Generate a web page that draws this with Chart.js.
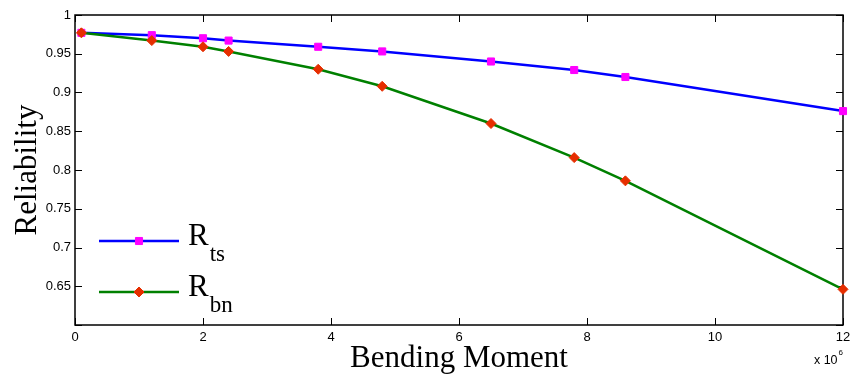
<!DOCTYPE html>
<html>
<head>
<meta charset="utf-8">
<script src="https://cdn.jsdelivr.net/npm/chart.js@4/dist/chart.umd.min.js"></script>
<style>
  html, body { margin: 0; padding: 0; background: #fff; }
  #chart { display: block; }
</style>
</head>
<body>
<canvas id="chart" width="851" height="377"></canvas>
<script>
// ── DATA ─────────────────────────────────────────────────
// bending moment in units of 10^6
const bendingMoment = [0.1, 1.2, 2, 2.4, 3.8, 4.8, 6.5, 7.8, 8.6, 12];
const reliabilityTs = [0.977, 0.974, 0.970, 0.967, 0.959, 0.953, 0.940, 0.929, 0.920, 0.876];
const reliabilityBn = [0.977, 0.967, 0.959, 0.953, 0.930, 0.908, 0.860, 0.816, 0.786, 0.646];
const xTicks = [0, 2, 4, 6, 8, 10, 12];
const yTicks = [0.6, 0.65, 0.7, 0.75, 0.8, 0.85, 0.9, 0.95, 1];

const SERIF = "'Liberation Serif', 'Times New Roman', serif";
const SANS  = "'Liberation Sans', Arial, sans-serif";
const TICK_LEN = 7;

const toPoints = ys => bendingMoment.map((x, i) => ({ x, y: ys[i] }));

// ── PLOT FRAME + INWARD TICKS ────────────────────────────
const framePlugin = {
  id: 'frame',
  beforeDatasetsDraw(chart) {
    const { ctx, chartArea: a, scales } = chart;
    ctx.save();
    ctx.strokeStyle = '#000';
    ctx.lineWidth = 1;
    ctx.beginPath();
    scales.x.ticks.forEach(t => {
      const px = Math.round(scales.x.getPixelForValue(t.value)) + 0.5;
      ctx.moveTo(px, a.bottom); ctx.lineTo(px, a.bottom - TICK_LEN);
      ctx.moveTo(px, a.top);    ctx.lineTo(px, a.top + TICK_LEN);
    });
    scales.y.ticks.forEach(t => {
      const py = Math.round(scales.y.getPixelForValue(t.value)) + 0.5;
      ctx.moveTo(a.left, py);  ctx.lineTo(a.left + TICK_LEN, py);
      ctx.moveTo(a.right, py); ctx.lineTo(a.right - TICK_LEN, py);
    });
    ctx.stroke();
    ctx.lineWidth = 1.5;
    ctx.strokeRect(a.left, a.top, a.right - a.left, a.bottom - a.top);
    ctx.restore();
  }
};

// ── LEGEND (with subscripts) + EXPONENT LABEL ────────────
function drawMarker(ctx, ds, x, y) {
  ctx.fillStyle = ds.pointBackgroundColor;
  ctx.strokeStyle = ds.pointBorderColor;
  ctx.lineWidth = ds.pointBorderWidth;
  ctx.beginPath();
  if (ds.pointStyle === 'rect') {
    const s = ds.pointRadius * Math.SQRT1_2;
    ctx.rect(x - s, y - s, 2 * s, 2 * s);
  } else {
    const r = ds.pointRadius;
    ctx.moveTo(x - r, y); ctx.lineTo(x, y - r); ctx.lineTo(x + r, y); ctx.lineTo(x, y + r);
    ctx.closePath();
  }
  ctx.fill();
  ctx.stroke();
}

const legendPlugin = {
  id: 'subLegend',
  afterDraw(chart) {
    const { ctx, chartArea: a } = chart;
    const entries = [
      { ds: chart.data.datasets[1], sub: 'ts', y: a.bottom - 84 },
      { ds: chart.data.datasets[0], sub: 'bn', y: a.bottom - 33 }
    ];
    ctx.save();
    entries.forEach(e => {
      const x0 = a.left + 24, x1 = a.left + 104;
      ctx.strokeStyle = e.ds.borderColor;
      ctx.lineWidth = e.ds.borderWidth;
      ctx.beginPath();
      ctx.moveTo(x0, e.y); ctx.lineTo(x1, e.y);
      ctx.stroke();
      drawMarker(ctx, e.ds, (x0 + x1) / 2, e.y);

      ctx.fillStyle = '#000';
      ctx.textBaseline = 'alphabetic';
      ctx.textAlign = 'left';
      ctx.font = '31px ' + SERIF;
      ctx.fillText('R', x1 + 9, e.y + 4);
      const w = ctx.measureText('R').width;
      ctx.font = '23px ' + SERIF;
      ctx.fillText(e.sub, x1 + 9 + w + 1, e.y + 20);
    });

    // x 10^6
    ctx.fillStyle = '#000';
    ctx.textAlign = 'right';
    ctx.textBaseline = 'alphabetic';
    ctx.font = '8px ' + SANS;
    ctx.fillText('6', a.right, a.bottom + 30);
    const sw = ctx.measureText('6').width;
    ctx.font = '12.5px ' + SANS;
    ctx.fillText('x 10', a.right - sw - 1, a.bottom + 39);
    ctx.restore();
  }
};

// ── CHART ────────────────────────────────────────────────
new Chart(document.getElementById('chart').getContext('2d'), {
  type: 'line',
  data: {
    datasets: [
      {
        label: 'R_bn',
        data: toPoints(reliabilityBn),
        borderColor: '#008000',
        borderWidth: 2.5,
        pointStyle: 'rectRot',
        pointRadius: 5,
        pointBackgroundColor: '#e62e00',
        pointBorderColor: '#e62e00',
        pointBorderWidth: 1,
        tension: 0,
        clip: false,
        order: 0
      },
      {
        label: 'R_ts',
        data: toPoints(reliabilityTs),
        borderColor: '#0000ff',
        borderWidth: 2.5,
        pointStyle: 'rect',
        pointRadius: 5,
        pointBackgroundColor: '#ff00ff',
        pointBorderColor: '#ff00ff',
        pointBorderWidth: 1,
        tension: 0,
        clip: false,
        order: 1
      }
    ]
  },
  options: {
    responsive: false,
    animation: false,
    layout: { padding: { top: 15, right: 8, left: 0, bottom: 0 } },
    plugins: { legend: { display: false }, tooltip: { enabled: false } },
    scales: {
      x: {
        type: 'linear',
        min: 0, max: 12,
        afterBuildTicks: s => { s.ticks = xTicks.map(v => ({ value: v })); },
        afterFit: s => { s.height = 52; s.paddingLeft = 0; s.paddingRight = 0; },
        grid: { display: false, drawTicks: false },
        border: { display: false },
        ticks: {
          color: '#000',
          padding: 5,
          maxRotation: 0,
          font: { family: SANS, size: 13 },
          callback: v => String(v)
        },
        title: {
          display: true,
          text: 'Bending Moment',
          color: '#000',
          font: { family: SERIF, size: 31, lineHeight: 1.2 },
          padding: 0
        }
      },
      y: {
        type: 'linear',
        min: 0.6, max: 1,
        afterBuildTicks: s => { s.ticks = yTicks.map(v => ({ value: v })); },
        afterFit: s => { s.width = 75; s.paddingTop = 0; s.paddingBottom = 0; },
        grid: { display: false, drawTicks: false },
        border: { display: false },
        ticks: {
          color: '#000',
          padding: 4,
          font: { family: SANS, size: 13 },
          callback: v => (Math.abs(v - 0.6) < 1e-9 ? '' : String(+v.toFixed(2)))
        },
        title: {
          display: true,
          text: 'Reliability',
          color: '#000',
          font: { family: SERIF, size: 31, lineHeight: 1.2 },
          padding: { top: 9, bottom: 0 }
        }
      }
    }
  },
  plugins: [framePlugin, legendPlugin]
});
</script>
</body>
</html>
